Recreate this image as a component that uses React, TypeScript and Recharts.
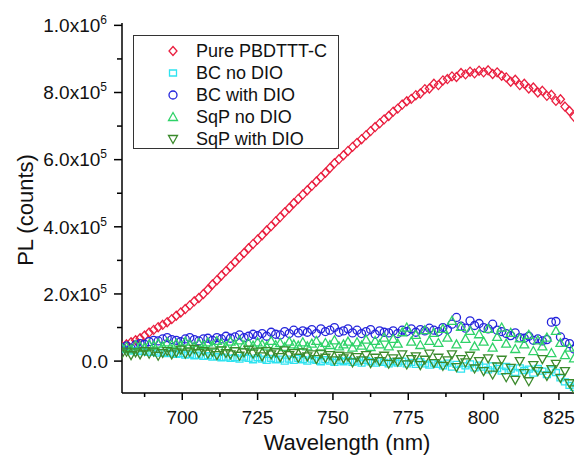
import { Scatter, ScatterChart, XAxis, YAxis } from "recharts";

const WAVELENGTHS = [
  680, 681.5, 683, 684.5, 686, 687.5, 689, 690.5, 692, 693.5,
  695, 696.5, 698, 699.5, 701, 702.5, 704, 705.5, 707, 708.5,
  710, 711.5, 713, 714.5, 716, 717.5, 719, 720.5, 722, 723.5,
  725, 726.5, 728, 729.5, 731, 732.5, 734, 735.5, 737, 738.5,
  740, 741.5, 743, 744.5, 746, 747.5, 749, 750.5, 752, 753.5,
  755, 756.5, 758, 759.5, 761, 762.5, 764, 765.5, 767, 768.5,
  770, 771.5, 773, 774.5, 776, 777.5, 779, 780.5, 782, 783.5,
  785, 786.5, 788, 789.5, 791, 792.5, 794, 795.5, 797, 798.5,
  800, 801.5, 803, 804.5, 806, 807.5, 809, 810.5, 812, 813.5,
  815, 816.5, 818, 819.5, 821, 822.5, 824, 825.5, 827, 828.5,
  830,
];

// PL counts in thousands
const PURE_PBDTTT_C = [
  45, 50, 56, 62, 68, 76, 85, 93, 101, 108,
  116, 125, 135, 145, 155, 166, 178, 188, 200, 213,
  228, 241, 255, 268, 282, 295, 309, 322, 336, 349,
  362, 375, 389, 402, 416, 429, 443, 456, 470, 483,
  496, 509, 522, 535, 548, 561, 575, 589, 601, 613,
  626, 638, 650, 661, 673, 685, 697, 708, 720, 730,
  743, 752, 764, 774, 781, 792, 797, 810, 812, 826,
  822, 836, 840, 848, 846, 858, 854, 862, 857, 865,
  860, 866, 855, 860, 850, 845, 832, 838, 822, 826,
  812, 815, 800, 805, 790, 793, 775, 780, 758, 745,
  728,
];

const BC_NO_DIO = [
  36, 34, 30, 32, 28, 30, 26, 28, 24, 26,
  22, 24, 20, 22, 18, 20, 16, 18, 14, 16,
  12, 14, 10, 12, 8, 10, 6, 12, 8, 4,
  10, 6, 2, 8, 4, 6, 0, 6, 2, 8,
  4, 0, 6, 2, -2, 4, 0, -4, 2, -2,
  2, -4, 0, -6, 2, -2, -6, 0, -4, -8,
  -2, -6, 0, -8, -4, -10, -2, -8, -12, -6,
  -10, -14, -6, -18, -10, -24, -14, -8, -20, -12,
  -18, -26, -14, -22, -30, -16, -24, -34, -20, -28,
  -24, -36, -22, -30, -40, -26, -34, -50, -62, -72,
  -78,
];

const BC_WITH_DIO = [
  40, 45, 38, 48, 52, 50, 58, 62, 60, 66,
  70, 64, 62, 58, 66, 70, 64, 60, 66, 68,
  62, 70, 66, 74, 68, 72, 78, 70, 74, 80,
  76, 82, 74, 86, 80, 78, 88, 82, 92, 84,
  90, 86, 94, 82, 96, 88, 92, 100, 86, 90,
  96, 84, 92, 82, 88, 94, 80, 90, 86, 84,
  90, 82, 92, 88, 96, 86, 94, 90, 98, 92,
  88, 100, 94, 110, 130, 104, 98, 120, 106, 112,
  100, 96, 110, 92, 88, 82, 76, 84, 70, 68,
  74, 62, 66, 60, 64, 116, 118, 72, 56, 52,
  36,
];

const SQP_NO_DIO = [
  38, 42, 35, 48, 44, 40, 50, 46, 52, 44,
  56, 48, 52, 46, 58, 50, 44, 54, 48, 56,
  46, 60, 52, 44, 58, 50, 62, 48, 54, 46,
  56, 50, 44, 60, 48, 54, 42, 58, 50, 46,
  56, 44, 52, 60, 42, 54, 48, 62, 44, 50,
  58, 40, 56, 46, 64, 42, 60, 50, 70, 44,
  66, 52, 86, 100, 58, 78, 48, 92, 60, 84,
  54, 96, 70, 120, 50, 102, 66, 90, 44, 80,
  58, 96, 40, 72, 100, 52, 84, 36, 68, 50,
  78, 30, 62, 44, 70, 24, 90, 54, 18, 40,
  8,
];

const SQP_WITH_DIO = [
  22, 28, 18, 26, 20, 30, 22, 28, 16, 24,
  30, 20, 26, 34, 22, 28, 36, 24, 30, 22,
  28, 18, 32, 24, 20, 30, 16, 26, 34, 22,
  28, 14, 30, 20, 26, 12, 32, 18, 24, 10,
  26, 14, 20, 6, 22, 10, 18, 2, 16, 8,
  14, -4, 12, 2, 18, -6, 10, 0, 16, -8,
  8, -2, 20, -10, 6, 14, -12, 4, 22, -6,
  10, -14, 2, 20, -18, 6, -4, 16, -22, 0,
  -30, 8, -40, -16, 4, -48, -20, -56, 0, -36,
  -60, -12, -30, 6, -44, -24, -8, -50, -30, -66,
  -84,
];

const X_TICKS = [687.5, 700, 712.5, 725, 737.5, 750, 762.5, 775, 787.5, 800, 812.5, 825];
const X_LABELS = [700, 725, 750, 775, 800, 825];
const Y_TICKS = [0, 100000, 200000, 300000, 400000, 500000, 600000, 700000, 800000, 900000, 1000000];
const Y_LABELS = [0, 200000, 400000, 600000, 800000, 1000000];

const FONT = '"Liberation Sans", Arial, sans-serif';

type Marker = "diamond" | "square" | "circle" | "up" | "down";

const SERIES: { name: string; values: number[]; color: string; marker: Marker }[] = [
  { name: "Pure PBDTTT-C", values: PURE_PBDTTT_C, color: "#ea1f3f", marker: "diamond" },
  { name: "BC no DIO", values: BC_NO_DIO, color: "#2fe3f0", marker: "square" },
  { name: "BC with DIO", values: BC_WITH_DIO, color: "#2424dc", marker: "circle" },
  { name: "SqP no DIO", values: SQP_NO_DIO, color: "#2fd268", marker: "up" },
  { name: "SqP with DIO", values: SQP_WITH_DIO, color: "#3b8a2c", marker: "down" },
];

function markerPath(kind: Marker, cx: number, cy: number) {
  switch (kind) {
    case "diamond":
      return `M${cx},${cy - 4.5}L${cx + 4},${cy}L${cx},${cy + 4.5}L${cx - 4},${cy}Z`;
    case "square":
      return `M${cx - 3.5},${cy - 3}h7v6h-7Z`;
    case "up":
      return `M${cx},${cy - 4.5}L${cx + 4.5},${cy + 3.5}L${cx - 4.5},${cy + 3.5}Z`;
    case "down":
      return `M${cx},${cy + 4.5}L${cx + 4.5},${cy - 3.5}L${cx - 4.5},${cy - 3.5}Z`;
    default:
      return `M${cx - 4},${cy}a4,4 0 1,0 8,0a4,4 0 1,0 -8,0`;
  }
}

const makeShape = (kind: Marker, color: string) => (p: any) =>
  <path d={markerPath(kind, p.cx, p.cy)} fill="none" stroke={color} strokeWidth={1.3} />;

function BottomTick({ x, y, payload }: any) {
  const major = X_LABELS.includes(payload.value);
  return (
    <g>
      <line x1={x} x2={x} y1={y} y2={y + (major ? 7 : 4)} stroke="#000" strokeWidth={1.5} />
      {major ? (
        <text x={x} y={y + 31} textAnchor="middle" fontSize={19} fontFamily={FONT} fill="#111">
          {payload.value}
        </text>
      ) : null}
    </g>
  );
}

function TopTick({ x, y, payload }: any) {
  const major = X_LABELS.includes(payload.value);
  return <line x1={x} x2={x} y1={y} y2={y + (major ? 6 : 4)} stroke="#000" strokeWidth={1.5} />;
}

function LeftTick({ x, y, payload }: any) {
  const v = payload.value as number;
  const major = Y_LABELS.includes(v);
  let label = null;
  if (major) {
    if (v === 0) {
      label = (
        <text x={x - 14} y={y} dy="0.36em" textAnchor="end" fontSize={19} fontFamily={FONT} fill="#111">
          0.0
        </text>
      );
    } else {
      const exp = Math.floor(Math.log10(v));
      const mant = (v / Math.pow(10, exp)).toFixed(1);
      label = (
        <text x={x - 15} y={y} dy="0.36em" textAnchor="end" fontSize={19} fontFamily={FONT} fill="#111">
          {mant}x10
          <tspan dy={-8} fontSize={12}>{exp}</tspan>
        </text>
      );
    }
  }
  return (
    <g>
      <line x1={x} x2={x - (major ? 8 : 5)} y1={y} y2={y} stroke="#000" strokeWidth={1.5} />
      {label}
    </g>
  );
}

function RightTick({ x, y, payload }: any) {
  const major = Y_LABELS.includes(payload.value);
  return <line x1={x} x2={x - (major ? 7 : 4)} y1={y} y2={y} stroke="#000" strokeWidth={1.5} />;
}

function XTitle() {
  return (
    <text x={347} y={450} textAnchor="middle" fontSize={22} fontFamily={FONT} fill="#111">
      Wavelength (nm)
    </text>
  );
}

function YTitle() {
  return (
    <text x={33} y={210} transform="rotate(-90 33 210)" textAnchor="middle" fontSize={22} fontFamily={FONT} fill="#111">
      PL (counts)
    </text>
  );
}

function LegendBox() {
  return (
    <div
      style={{
        position: "absolute",
        left: 133,
        top: 35,
        width: 204,
        height: 112,
        border: "1px solid #333",
        background: "#fff",
        fontFamily: FONT,
        fontSize: 18,
        color: "#111",
      }}
    >
      {SERIES.map((s, i) => (
        <div key={s.name} style={{ position: "absolute", left: 0, top: 4 + i * 22, height: 22, display: "flex", alignItems: "center" }}>
          <svg width={60} height={22} style={{ display: "block" }}>
            <path d={markerPath(s.marker, 39, 11)} fill="none" stroke={s.color} strokeWidth={1.3} />
          </svg>
          <span style={{ marginLeft: 2, whiteSpace: "nowrap" }}>{s.name}</span>
        </div>
      ))}
    </div>
  );
}

export default function App() {
  return (
    <div style={{ position: "absolute", left: 0, top: 0, width: 577, height: 457, background: "#fff" }}>
      <ScatterChart width={577} height={457} margin={{ top: 23, right: 3, bottom: 0, left: 0 }}>
        <XAxis
          type="number"
          dataKey="x"
          domain={[680, 830]}
          allowDataOverflow
          ticks={X_TICKS}
          interval={0}
          height={64}
          tickSize={0}
          tickMargin={0}
          tickLine={false}
          tick={<BottomTick />}
          axisLine={{ stroke: "#000", strokeWidth: 1.5 }}
          label={<XTitle />}
        />
        <XAxis
          xAxisId="top"
          orientation="top"
          type="number"
          domain={[680, 830]}
          allowDataOverflow
          ticks={X_TICKS}
          interval={0}
          height={0}
          tickSize={0}
          tickMargin={0}
          tickLine={false}
          tick={<TopTick />}
          axisLine={{ stroke: "#000", strokeWidth: 1.5 }}
        />
        <YAxis
          type="number"
          dataKey="y"
          domain={[-95000, 1007000]}
          allowDataOverflow
          ticks={Y_TICKS}
          interval={0}
          width={122}
          tickSize={0}
          tickMargin={0}
          tickLine={false}
          tick={<LeftTick />}
          axisLine={{ stroke: "#000", strokeWidth: 1.5 }}
          label={<YTitle />}
        />
        <YAxis
          yAxisId="right"
          orientation="right"
          type="number"
          domain={[-95000, 1007000]}
          allowDataOverflow
          ticks={Y_TICKS}
          interval={0}
          width={0}
          tickSize={0}
          tickMargin={0}
          tickLine={false}
          tick={<RightTick />}
          axisLine={{ stroke: "#000", strokeWidth: 1.5 }}
        />
        {SERIES.map((s) => (
          <Scatter
            key={s.name}
            name={s.name}
            data={WAVELENGTHS.map((x, i) => ({ x, y: s.values[i] * 1000 }))}
            shape={makeShape(s.marker, s.color)}
            isAnimationActive={false}
          />
        ))}
      </ScatterChart>
      <LegendBox />
    </div>
  );
}
